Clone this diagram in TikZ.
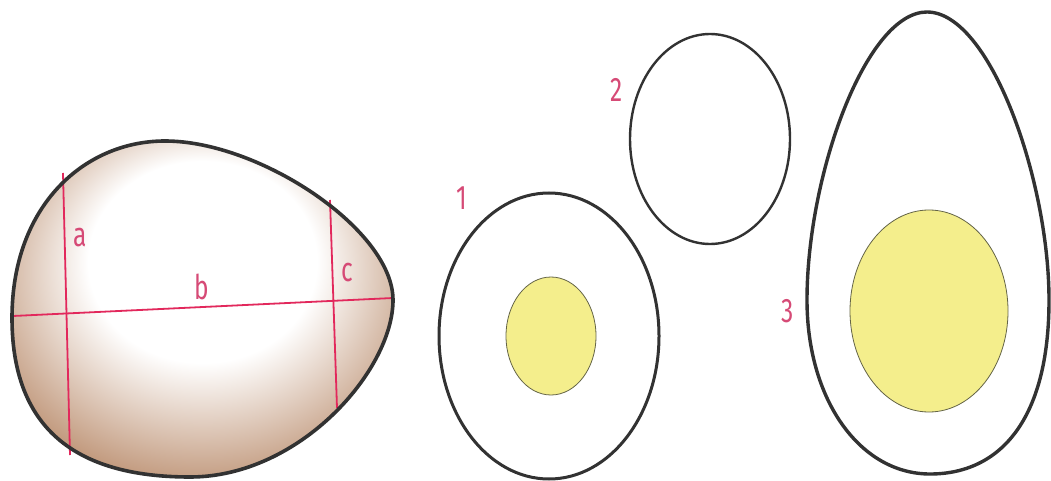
\documentclass[tikz,border=0pt]{standalone}
\usepackage{fontspec}
\setmainfont{Fira Sans}
\definecolor{eggtan}{RGB}{194,154,126}
\definecolor{eggline}{RGB}{50,50,50}
\definecolor{measure}{RGB}{226,40,92}
\definecolor{labelpink}{RGB}{214,74,118}
\definecolor{yolkfill}{RGB}{244,238,140}
\definecolor{yolkline}{RGB}{100,100,70}
\pgfdeclareradialshading{shellshade}{\pgfpoint{0bp}{10bp}}{%
  color(0bp)=(white); color(15bp)=(white); color(30bp)=(eggtan); color(50bp)=(eggtan!90!black)}
\tikzset{
  outline/.style={draw=eggline, line width=3pt},
  yolk/.style={draw=yolkline, line width=0.8pt, fill=yolkfill},
  measureline/.style={draw=measure, line width=1.8pt},
  lbl/.style={text=labelpink, font=\fontsize{34}{34}\selectfont, xscale=0.72, inner sep=0pt}
}
\def\shellpath{(12,318) .. controls (12,205) and (85,141) .. (165,141)
  .. controls (260,141) and (393,230) .. (393,300)
  .. controls (393,370) and (300,477) .. (190,477)
  .. controls (90,477) and (12,440) .. (12,318) -- cycle}
\begin{document}
\begin{tikzpicture}[x=1pt, y=-1pt]
\useasboundingbox (0,0) rectangle (1051,481);
\fill[white] (0,0) rectangle (1051,481);

% brown shell seen from the side
\path[shading=shellshade] \shellpath;
% measuring lines a, b, c
\coordinate (a1) at (63,173);  \coordinate (a2) at (70,455);
\coordinate (b1) at (13,316);  \coordinate (b2) at (393,298);
\coordinate (c1) at (330,200); \coordinate (c2) at (337,408);
\draw[measureline] (a1) -- (a2);
\draw[measureline] (b1) -- (b2);
\draw[measureline] (c1) -- (c2);
\draw[eggline, line width=3.6pt] \shellpath;
\node[lbl] (la) at (80,238) {a};
\node[lbl] (lb) at (202,287) {b};
\node[lbl] (lc) at (347,273) {c};

% egg 1 with small yolk
\draw[outline] (549,336) ellipse [x radius=110, y radius=143];
\draw[yolk] (551,336) ellipse [x radius=45, y radius=59];
\node[lbl] (l1) at (462,198) {1};

% egg 2, no yolk
\draw[outline, line width=2.4pt] (710,139) ellipse [x radius=80, y radius=105];
\node[lbl] (l2) at (617,90) {2};

% egg 3 with large yolk
\draw[outline, line width=3.4pt]
  (927,12) .. controls (990,12) and (1049,180) .. (1049,300)
  .. controls (1049,420) and (1000,474) .. (930,474)
  .. controls (860,474) and (807,400) .. (807,300)
  .. controls (807,175) and (866,12) .. (927,12) -- cycle;
\draw[yolk] (929,311) ellipse [x radius=79, y radius=101];
\node[lbl] (l3) at (788,311) {3};
\end{tikzpicture}
\end{document}
